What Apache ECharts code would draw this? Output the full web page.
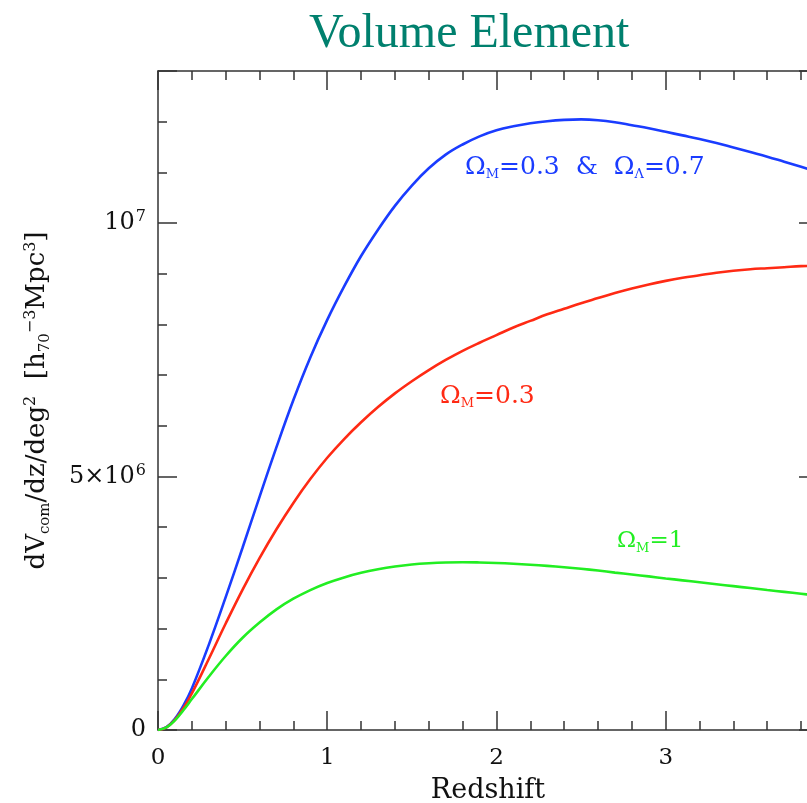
<!DOCTYPE html>
<html>
<head>
<meta charset="utf-8">
<script src="https://cdn.jsdelivr.net/npm/echarts@6/dist/echarts.min.js"></script>
<style>
html,body{margin:0;padding:0;background:#fff;}
#chart{width:807px;height:803px;}
</style>
</head>
<body>
<div id="chart"></div>
<script>
// Redshift samples
const redshift = [0, 0.05, 0.1, 0.15, 0.2, 0.3, 0.4, 0.5, 0.6, 0.7, 0.8, 0.9, 1.0, 1.1, 1.2, 1.3, 1.4, 1.5, 1.6, 1.7, 1.8, 1.9,
                  2.0, 2.1, 2.2, 2.3, 2.4, 2.5, 2.6, 2.7, 2.8, 2.9, 3.0, 3.1, 3.2, 3.3, 3.4, 3.5, 3.6, 3.7, 3.8, 3.9];
// dV/dz/deg^2 in units of 10^6 h70^-3 Mpc^3
const lambdaCDM = [0, 0.056, 0.22, 0.48, 0.82, 1.68, 2.62, 3.60, 4.60, 5.58, 6.51, 7.35, 8.09, 8.75, 9.35, 9.87, 10.34, 10.74, 11.08, 11.35, 11.55, 11.71,
                   11.83, 11.91, 11.97, 12.01, 12.035, 12.045, 12.03, 11.99, 11.93, 11.87, 11.80, 11.73, 11.66, 11.58, 11.49, 11.40, 11.31, 11.21, 11.11, 11.01];
const openM03 = [0, 0.053, 0.20, 0.43, 0.72, 1.40, 2.10, 2.77, 3.39, 3.96, 4.48, 4.95, 5.37, 5.74, 6.07, 6.37, 6.64, 6.88, 7.10, 7.30, 7.48, 7.64,
                 7.79, 7.94, 8.07, 8.20, 8.31, 8.42, 8.52, 8.62, 8.71, 8.79, 8.86, 8.92, 8.97, 9.02, 9.06, 9.09, 9.11, 9.13, 9.15, 9.16];
const einsteinDeSitter = [0, 0.05, 0.19, 0.39, 0.61, 1.05, 1.46, 1.82, 2.12, 2.38, 2.59, 2.76, 2.90, 3.01, 3.10, 3.17, 3.225, 3.265, 3.29, 3.305, 3.31, 3.305,
                          3.295, 3.28, 3.26, 3.237, 3.21, 3.18, 3.145, 3.105, 3.068, 3.03, 2.99, 2.952, 2.914, 2.876, 2.838, 2.80, 2.762, 2.725, 2.688, 2.65];
const xTickLabels = {0: '0', 1: '1', 2: '2', 3: '3'};
const yTickLabels = {0: '{n|0}', 5: '{n|5×10}{p|6}', 10: '{n|10}{p|7}'};

const axisColor = '#333';
const textColor = '#111';
const labelFont = 'DejaVu Serif';
const chart = echarts.init(document.getElementById('chart'));

function pairs(ys) { return redshift.map((z, i) => [z, ys[i]]); }

const lineStyle = {color: axisColor, width: 1.5};
const xCommon = {type: 'value', min: 0, max: 3.9, splitLine: {show: false}};
const yCommon = {type: 'value', min: 0, max: 13, splitLine: {show: false}};

function mkLabel(color, text, size) {
  return {
    text: text, fill: color, verticalAlign: 'middle',
    rich: {
      o: {fontFamily: labelFont, fontSize: size, fill: color},
      s: {fontFamily: labelFont, fontSize: 13, fill: color, padding: [15, 0, 0, 0]}
    }
  };
}

chart.setOption({
  animation: false,
  backgroundColor: '#fff',
  title: {
    text: 'Volume Element',
    left: 304, top: 5,
    textStyle: {fontFamily: 'Liberation Serif', fontSize: 48, fontWeight: 'normal', color: '#00806e'}
  },
  grid: {left: 158, top: 71, bottom: 73, right: -11, containLabel: false, outerBoundsMode: 'none'},
  xAxis: [
    Object.assign({}, xCommon, {
      position: 'bottom', interval: 1,
      axisLine: {show: true, onZero: false, lineStyle},
      axisTick: {inside: true, length: 19, lineStyle},
      axisLabel: {margin: 17, fontFamily: labelFont, fontSize: 23, color: textColor,
        formatter: v => (xTickLabels[v] !== undefined ? xTickLabels[v] : '')},
      name: 'Redshift', nameLocation: 'middle', nameGap: 47,
      nameTextStyle: {fontFamily: labelFont, fontSize: 27, color: textColor}
    }),
    Object.assign({}, xCommon, {
      position: 'bottom', interval: 0.2,
      axisLine: {show: false, onZero: false}, axisLabel: {show: false},
      axisTick: {inside: true, length: 9, lineStyle}
    }),
    Object.assign({}, xCommon, {
      position: 'top', interval: 1,
      axisLine: {show: true, onZero: false, lineStyle}, axisLabel: {show: false},
      axisTick: {inside: true, length: 19, lineStyle}
    }),
    Object.assign({}, xCommon, {
      position: 'top', interval: 0.2,
      axisLine: {show: false, onZero: false}, axisLabel: {show: false},
      axisTick: {inside: true, length: 9, lineStyle}
    })
  ],
  yAxis: [
    Object.assign({}, yCommon, {
      position: 'left', interval: 5,
      axisLine: {show: true, onZero: false, lineStyle},
      axisTick: {inside: true, length: 19, lineStyle},
      axisLabel: {margin: 12, color: textColor,
        formatter: v => (yTickLabels[v] !== undefined ? yTickLabels[v] : ''),
        rich: {
          n: {fontFamily: labelFont, fontSize: 24, color: textColor},
          p: {fontFamily: labelFont, fontSize: 16, color: textColor, padding: [0, 0, 12, 1]}
        }},
      name: '{t|dV}{sb|com}{t|/dz/deg}{sp|2}{t|  [h}{sb|70}{sp|−3}{t|Mpc}{sp|3}{t|]}',
      nameLocation: 'middle', nameRotate: 90, nameGap: 105,
      nameTextStyle: {
        color: textColor,
        rich: {
          t: {fontFamily: labelFont, fontSize: 26, color: textColor},
          sb: {fontFamily: labelFont, fontSize: 15, color: textColor, padding: [16, 0, 0, 0]},
          sp: {fontFamily: labelFont, fontSize: 16, color: textColor, padding: [0, 0, 14, 0]}
        }
      }
    }),
    Object.assign({}, yCommon, {
      position: 'left', interval: 1,
      axisLine: {show: false, onZero: false}, axisLabel: {show: false},
      axisTick: {inside: true, length: 9, lineStyle}
    }),
    Object.assign({}, yCommon, {
      position: 'right', interval: 5,
      axisLine: {show: true, onZero: false, lineStyle}, axisLabel: {show: false},
      axisTick: {inside: true, length: 19, lineStyle}
    }),
    Object.assign({}, yCommon, {
      position: 'right', interval: 1,
      axisLine: {show: false, onZero: false}, axisLabel: {show: false},
      axisTick: {inside: true, length: 9, lineStyle}
    })
  ],
  series: [
    {name: 'ΩM=0.3 & ΩΛ=0.7', type: 'line', smooth: 0.4, showSymbol: false,
     data: pairs(lambdaCDM), lineStyle: {color: '#1a3cff', width: 2.6}, itemStyle: {color: '#1a3cff'}},
    {name: 'ΩM=0.3', type: 'line', smooth: 0.4, showSymbol: false,
     data: pairs(openM03), lineStyle: {color: '#ff2a14', width: 2.6}, itemStyle: {color: '#ff2a14'}},
    {name: 'ΩM=1', type: 'line', smooth: 0.4, showSymbol: false,
     data: pairs(einsteinDeSitter), lineStyle: {color: '#22ee22', width: 2.6}, itemStyle: {color: '#22ee22'}}
  ],
  graphic: [
    {type: 'text', x: 465, y: 167, style: mkLabel('#1a3cff', '{o|Ω}{s|M}{o|=0.3  &  Ω}{s|Λ}{o|=0.7}', 25)},
    {type: 'text', x: 440, y: 396, style: mkLabel('#ff2a14', '{o|Ω}{s|M}{o|=0.3}', 25)},
    {type: 'text', x: 617, y: 541, style: mkLabel('#22ee22', '{o|Ω}{s|M}{o|=1}', 23)}
  ]
});
</script>
</body>
</html>
